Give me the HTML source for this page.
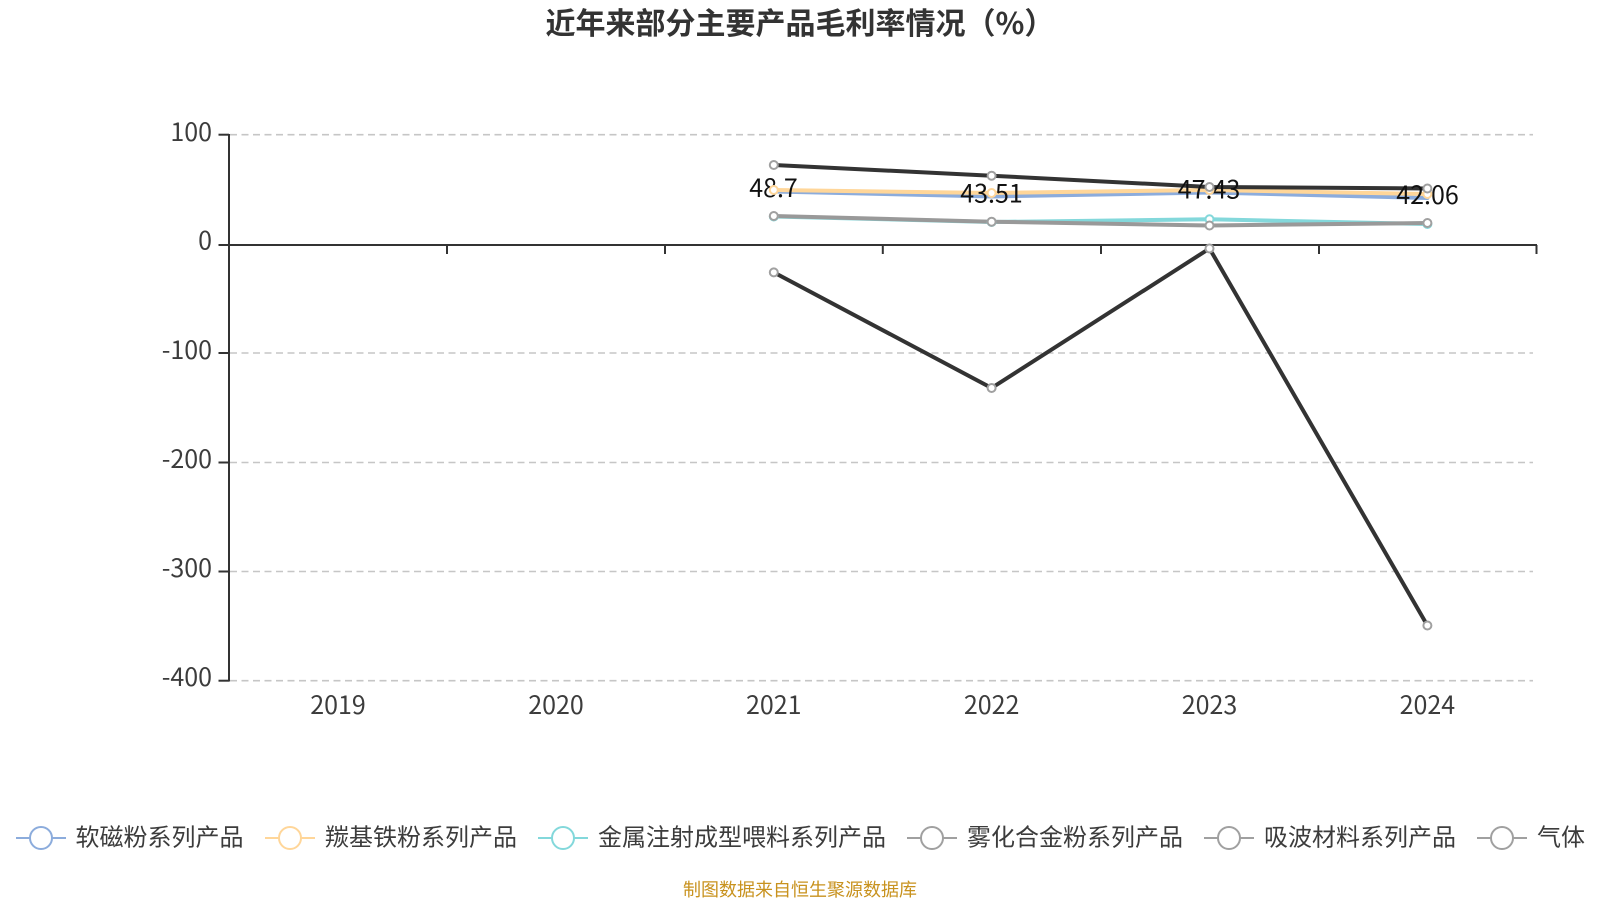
<!DOCTYPE html>
<html lang="zh">
<head>
<meta charset="utf-8">
<title>近年来部分主要产品毛利率情况（%）</title>
<style>
html,body{margin:0;padding:0;background:#fff;width:1600px;height:900px;overflow:hidden}
svg{display:block}
text{font-family:"Noto Sans CJK SC","Liberation Sans",sans-serif}
.ax{font-size:25px;fill:#3c3c3c}
.lg{font-size:24px;fill:#3c3c3c}
.dl{font-size:25px;fill:#111;text-anchor:middle}
</style>
</head>
<body>
<svg width="1600" height="900" viewBox="0 0 1600 900" xmlns="http://www.w3.org/2000/svg">
<rect width="1600" height="900" fill="#fff"/>
<text x="800" y="34" text-anchor="middle" style="font-size:30px;font-weight:700;fill:#333">近年来部分主要产品毛利率情况（%）</text>

<!-- grid -->
<g stroke="#c6c6c6" stroke-width="1.6" stroke-dasharray="7 4.5" fill="none">
<line x1="230" y1="134.7" x2="1533" y2="134.7"/>
<line x1="230" y1="353" x2="1533" y2="353"/>
<line x1="230" y1="462.5" x2="1533" y2="462.5"/>
<line x1="230" y1="571.5" x2="1533" y2="571.5"/>
<line x1="230" y1="680.7" x2="1533" y2="680.7"/>
</g>

<!-- axes -->
<g stroke="#333" stroke-width="2" fill="none">
<line x1="229" y1="134" x2="229" y2="681.5"/>
<line x1="218.5" y1="134.7" x2="229" y2="134.7"/>
<line x1="218.5" y1="245" x2="229" y2="245"/>
<line x1="218.5" y1="353" x2="229" y2="353"/>
<line x1="218.5" y1="462.5" x2="229" y2="462.5"/>
<line x1="218.5" y1="571.5" x2="229" y2="571.5"/>
<line x1="218.5" y1="680.7" x2="229" y2="680.7"/>
<line x1="218.5" y1="245" x2="1537" y2="245"/>
<line x1="229" y1="245" x2="229" y2="254"/>
<line x1="447" y1="245" x2="447" y2="254"/>
<line x1="665" y1="245" x2="665" y2="254"/>
<line x1="882.8" y1="245" x2="882.8" y2="254"/>
<line x1="1101" y1="245" x2="1101" y2="254"/>
<line x1="1319" y1="245" x2="1319" y2="254"/>
<line x1="1536.5" y1="245" x2="1536.5" y2="254"/>
</g>

<!-- axis labels -->
<g text-anchor="end">
<text class="ax" x="212" y="141">100</text>
<text class="ax" x="212" y="249.5">0</text>
<text class="ax" x="212" y="359">-100</text>
<text class="ax" x="212" y="468">-200</text>
<text class="ax" x="212" y="577">-300</text>
<text class="ax" x="212" y="686">-400</text>
</g>
<g text-anchor="middle">
<text class="ax" x="338" y="714">2019</text>
<text class="ax" x="556" y="714">2020</text>
<text class="ax" x="773.8" y="714">2021</text>
<text class="ax" x="991.6" y="714">2022</text>
<text class="ax" x="1209.5" y="714">2023</text>
<text class="ax" x="1427.4" y="714">2024</text>
</g>

<!-- lines -->
<g fill="none" stroke-width="4" stroke-linejoin="round" stroke-linecap="round">
<polyline stroke="#8cacdc" points="773.8,191.5 991.6,196.5 1209.5,192.5 1427.4,198"/>
<polyline stroke="#ffd699" points="773.8,190 991.6,193 1209.5,190 1427.4,194"/>
<polyline stroke="#83d8db" points="773.8,216.5 991.6,222 1209.5,219.3 1427.4,224"/>
<polyline stroke="#333" points="773.8,165 991.6,175.7 1209.5,187 1427.4,188.5"/>
<polyline stroke="#999" points="773.8,216 991.6,221.7 1209.5,225.5 1427.4,223"/>
<polyline stroke="#333" points="773.8,272.4 991.6,388 1209.5,248.5 1427.4,625.5"/>
</g>

<!-- data labels -->
<text class="dl" x="773.5" y="196.8">48.7</text>
<text class="dl" x="991.5" y="202.7">43.51</text>
<text class="dl" x="1209" y="198.3">47.43</text>
<text class="dl" x="1427.5" y="204">42.06</text>

<!-- markers -->
<g fill="#fff" stroke-width="2">
<g stroke="#ffd699">
<circle cx="773.8" cy="190" r="4"/><circle cx="991.6" cy="193" r="4"/><circle cx="1209.5" cy="190" r="4"/><circle cx="1427.4" cy="194" r="4"/>
</g>
<g stroke="#83d8db">
<circle cx="773.8" cy="216.5" r="4"/><circle cx="991.6" cy="222" r="4"/><circle cx="1209.5" cy="219.3" r="4"/><circle cx="1427.4" cy="224" r="4"/>
</g>
<g stroke="#a0a0a0">
<circle cx="773.8" cy="165" r="4"/><circle cx="991.6" cy="175.7" r="4"/><circle cx="1209.5" cy="187" r="4"/><circle cx="1427.4" cy="188.5" r="4"/>
<circle cx="773.8" cy="216" r="4"/><circle cx="991.6" cy="221.7" r="4"/><circle cx="1209.5" cy="225.5" r="4"/><circle cx="1427.4" cy="223" r="4"/>
<circle cx="773.8" cy="272.4" r="4"/><circle cx="991.6" cy="388" r="4"/><circle cx="1209.5" cy="248.5" r="4"/><circle cx="1427.4" cy="625.5" r="4"/>
</g>
</g>

<!-- legend -->
<g fill="#fff" stroke-width="2">
<line x1="16" y1="838" x2="66" y2="838" stroke="#8cacdc"/><circle cx="41" cy="838" r="11" stroke="#8cacdc"/>
<line x1="265" y1="838" x2="315" y2="838" stroke="#ffd699"/><circle cx="290" cy="838" r="11" stroke="#ffd699"/>
<line x1="538" y1="838" x2="588" y2="838" stroke="#83d8db"/><circle cx="563" cy="838" r="11" stroke="#83d8db"/>
<line x1="907" y1="838" x2="957" y2="838" stroke="#a0a0a0"/><circle cx="932" cy="838" r="11" stroke="#a0a0a0"/>
<line x1="1204" y1="838" x2="1254" y2="838" stroke="#a0a0a0"/><circle cx="1229" cy="838" r="11" stroke="#a0a0a0"/>
<line x1="1477" y1="838" x2="1527" y2="838" stroke="#a0a0a0"/><circle cx="1502" cy="838" r="11" stroke="#a0a0a0"/>
</g>
<text class="lg" x="75.5" y="845.5">软磁粉系列产品</text>
<text class="lg" x="325" y="845.5">羰基铁粉系列产品</text>
<text class="lg" x="598" y="845.5">金属注射成型喂料系列产品</text>
<text class="lg" x="967" y="845.5">雾化合金粉系列产品</text>
<text class="lg" x="1264" y="845.5">吸波材料系列产品</text>
<text class="lg" x="1537" y="845.5">气体</text>

<text x="800" y="896" text-anchor="middle" style="font-size:18px;fill:#c8921e">制图数据来自恒生聚源数据库</text>
</svg>
</body>
</html>
